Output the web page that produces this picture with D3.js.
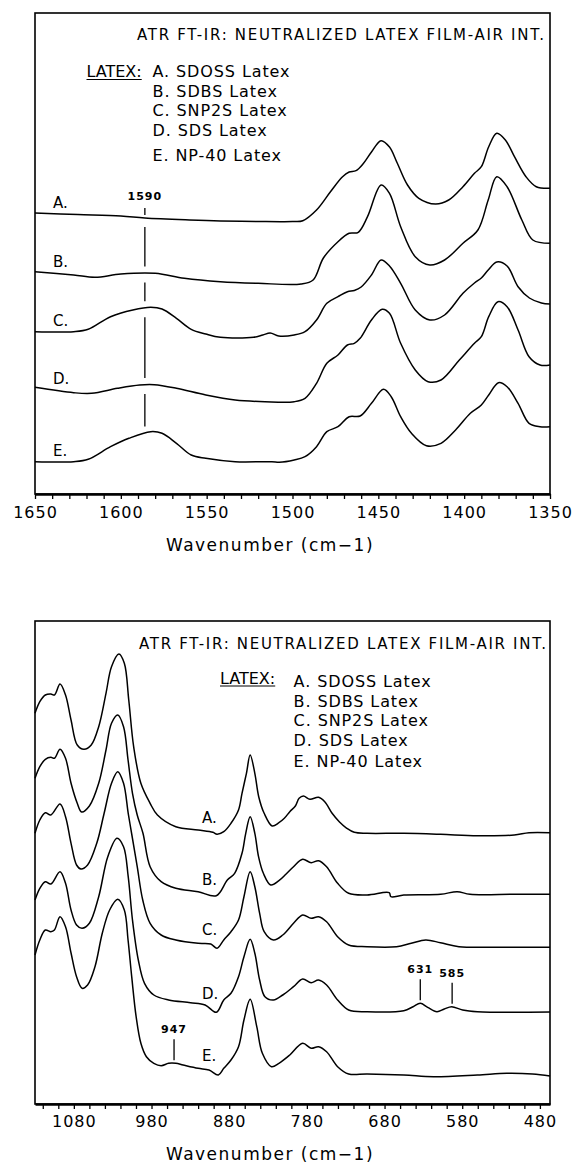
<!DOCTYPE html>
<html><head><meta charset="utf-8">
<script src="https://cdn.jsdelivr.net/npm/d3@7"></script>
<style>
body{margin:0;background:#fff;}
svg text{font-family:"DejaVu Sans",sans-serif;fill:#000;}
</style></head>
<body><svg id="c" width="576" height="1166"></svg>
<script>
// ---------- text ----------
const titleText = "ATR FT-IR: NEUTRALIZED LATEX FILM-AIR INT.";
const legendHeader = "LATEX:";
const legendItems = ["A. SDOSS Latex","B. SDBS Latex","C. SNP2S Latex","D. SDS Latex","E. NP-40 Latex"];
const seriesNames = ["A.","B.","C.","D.","E."];
const axisTitle = "Wavenumber (cm\u22121)";
const topTickLabels = [1650,1600,1550,1500,1450,1400,1350];
const bottomTickLabels = [1080,980,880,780,680,580,480];

// ---------- data: [wavenumber cm-1, stacked absorbance (a.u.)] ----------
const topA = [[1650,281],[1625,279.5],[1600,278],[1586,276],[1560,274],[1542,273],[1520,272.5],[1500,272.5],[1494,273.3],[1486,284],[1478,302],[1471,317],[1467,322],[1463,323.3],[1458.5,331],[1454,342],[1448.4,353.3],[1443.5,347],[1439,331],[1433,309],[1426.4,295.7],[1416.7,290],[1409,294],[1400.7,307.3],[1394,320.7],[1390,327.3],[1385.7,347.3],[1381,360.7],[1376,354],[1370.7,337.3],[1364,317.3],[1358,307.3],[1350,305.7]];
const topB = [[1650,222.3],[1627.5,219],[1615,216.7],[1600,220],[1580,220.7],[1563,215.7],[1542,212.3],[1520,210.7],[1495,210],[1488,214],[1482,236],[1473.5,252.3],[1467,260.7],[1461.7,261.7],[1456.3,277.3],[1448.4,309],[1443.5,300.7],[1437,267.3],[1428.5,237.3],[1420,229],[1411.4,234],[1400.7,250.7],[1392,264],[1386,294],[1381,317.3],[1375,307.3],[1366.4,274],[1360,254],[1350,250.7]];
const topC = [[1650,162.3],[1627.5,162.3],[1619,164.7],[1606,177.3],[1593,184],[1582.6,186.7],[1576,185],[1567.6,175.7],[1559,164.7],[1550.5,160],[1542,156.7],[1522.7,156.7],[1517.3,159],[1513,161],[1508,158],[1499,159],[1492.7,162.3],[1486,174],[1480,190.7],[1473.5,197.3],[1468,202.3],[1464,203.5],[1460,207],[1454,219],[1448.4,234],[1443.5,228],[1437,210.7],[1428.5,184],[1420,174],[1411.4,179],[1400.7,200.7],[1394,211],[1390,216],[1386,224],[1381,232],[1375,228],[1368.6,207.3],[1362,196],[1355,191],[1350,190]];
const topD = [[1650,106.7],[1627.5,101.3],[1617,100.7],[1602,105.7],[1589,109],[1580.5,109.3],[1567.6,105.7],[1550.5,99],[1533.4,94],[1516,92.3],[1499,92.3],[1492.7,95.7],[1486,110.7],[1480,130.7],[1473.5,139],[1468,149],[1464,150.7],[1460.6,155.7],[1454,174],[1447.8,184.7],[1443.5,180.7],[1437,150.7],[1428.5,124],[1421,112.3],[1413.5,114],[1402.8,134],[1394,150.7],[1390,157.3],[1385.7,177.3],[1380.3,192.3],[1375,187.3],[1368.6,164],[1362.2,137.3],[1355.8,129],[1350,129]];
const topE = [[1650,32.3],[1627.5,32.3],[1619,34.7],[1606,47.3],[1595.3,55.7],[1582.6,62.3],[1576,60.7],[1567.6,50.7],[1559,39],[1550.5,35.7],[1533.4,32.3],[1512,32.3],[1507.7,31.7],[1499,34],[1492.7,37.3],[1486,47.3],[1480,62.3],[1473.5,67.3],[1467,77.3],[1460.6,78],[1454,90.7],[1447,104.7],[1442.5,97.3],[1437,77.3],[1430.7,60.7],[1422,48.3],[1413.5,50.7],[1405,64],[1396.4,80.7],[1390,89],[1385.7,99],[1380,111.3],[1375,107.3],[1368.6,90.7],[1362.2,70.7],[1355.8,67.3],[1350,67.3]];

const botA = [[1130,390.7],[1123.8,402.3],[1116.7,409],[1109.6,410],[1104.9,409],[1097.8,420],[1090.7,409],[1083.6,384],[1075.6,359],[1067,354.7],[1057.6,359],[1048,377.3],[1038.6,410.7],[1031.5,437.3],[1022,450],[1015,440.7],[1009.3,404],[1003,357.3],[993.7,320.7],[981.8,300.7],[972.4,289],[948.7,277.3],[920,274],[901,271.7],[895.7,269.7],[887,272.3],[877.7,280.7],[868,294],[863.5,310.7],[857.8,330.7],[853,349],[847,330.7],[842,307.3],[835,290.7],[824.7,278],[816,281.3],[809,285.7],[802,292.3],[794.8,298],[790,305.7],[784.4,308],[776,304.7],[765,306.7],[757,302.3],[747.5,290.7],[738,282],[728.6,275.7],[719,271.7],[702.5,270.7],[655,270.7],[607.8,269.7],[560.5,268.3],[513,269],[494,271.3],[467,271.3]];
const botB = [[1130,325.7],[1123.8,337.3],[1116.7,344.7],[1109.6,346.7],[1105,345.7],[1097.8,354.7],[1090.7,345.7],[1083.6,320.7],[1075.6,300.7],[1070,292],[1060,298],[1048,320.7],[1038.6,354],[1031.5,380.7],[1023.5,389],[1016,377.3],[1010.2,344],[1004.5,310.7],[998.4,289],[991,270.7],[981.8,237.3],[967.6,222.3],[948.7,215.7],[920,212.3],[896.6,208.3],[882.4,224],[873,230.7],[863.5,250.7],[858.7,270.7],[853,287.3],[847,270.7],[842.2,247.3],[836,230.7],[826.5,219],[816,223.3],[806.7,230],[797.2,237.3],[785.4,244.7],[774.5,241.3],[765,243.3],[754.6,237.3],[740.4,220.7],[726.2,210.7],[702.5,209],[674,211.3],[671.8,207.3],[655.2,209],[607.8,209.7],[586.5,212.3],[570,209.7],[513,209.7],[467,209.7]];
const botC = [[1130,270.7],[1123.8,284],[1116.7,291.3],[1109.6,289],[1097.8,300],[1090.7,287.3],[1083.6,260.7],[1076.5,239],[1070.8,235],[1062.3,239],[1050.5,260.7],[1041,290.7],[1031.5,320.7],[1023.5,332.3],[1016,320.7],[1010,290.7],[1005.5,270],[998.4,237.3],[991.3,204],[981.8,180.7],[967.6,169],[948.7,164],[920,160.7],[903.7,160],[895.7,155.7],[887,164],[877.7,172.3],[868,184],[861,207.3],[853,232.3],[847,217.3],[840.8,190.7],[835,172.3],[823,164],[811,169],[797.2,180.7],[785.4,189],[774.5,185.7],[765,187.3],[754.6,182.3],[740.4,167.3],[726.2,159],[702.5,157.3],[664.6,157.3],[645.7,160.7],[627,164],[608,161.3],[584.2,157.3],[536.8,156.7],[467,156.7]];
const botD = [[1130,204],[1123.8,215.7],[1116.7,222.3],[1109.6,220],[1097.8,232.3],[1090.7,220.7],[1083.6,194],[1076.5,179],[1069.4,175.7],[1060,180.7],[1048,207.3],[1036.3,247.3],[1024.4,265.7],[1016,257.3],[1010,227.3],[1004.5,184],[997,144],[989,120.7],[977,109],[958,104],[929.8,101.3],[911,99],[896.6,91.7],[887,104],[877.7,110.7],[868,127.3],[861,147.3],[853,164.7],[847,150.7],[840.8,124],[834,107.3],[823,104],[811,109],[797.2,117.3],[785.4,125],[774.5,121.3],[765,124],[754.6,119],[740.4,104],[726.2,94],[702.5,92.3],[655.2,93.3],[643.3,97.3],[634,100.7],[624.5,96.7],[612.6,92.3],[603.1,95],[593.6,97.3],[579.4,94],[560.5,92.3],[467,92]];
const botE = [[1130,149],[1123.8,164],[1116.7,174],[1109.6,172.3],[1105,174],[1097.8,187.3],[1090.7,177.3],[1083.6,151],[1076.5,127.3],[1069.4,115.7],[1062.3,119],[1052.8,137.3],[1043.3,171],[1033.9,194],[1023.5,204.7],[1015,194],[1010.2,164],[1005.5,127.3],[999.8,87.3],[993.7,60.7],[986.6,47.3],[977,40.7],[967.6,38.3],[958,40.7],[948.7,40.7],[939.3,39],[920,35.7],[906,34],[894,29],[887,35.7],[877.7,44],[868,57.3],[861,84],[853,104.7],[844.5,77.3],[837.3,50.7],[825.6,37.3],[816,40.7],[802,49],[785.4,60.7],[774.5,55.7],[765,57.3],[754.6,52.3],[740.4,37.3],[726.2,30],[702.5,30],[655.2,29],[617,27.3],[560.5,29],[522.6,30.7],[489.5,30],[467,28]];

// peak annotations: label text, drawn position (cm-1), series index
const topMarks = [{label:"1590", at:1586}];
const bottomMarks = [{label:"947", at:951, s:4},{label:"631", at:634, s:3},{label:"585", at:593, s:3}];

// ---------- drawing ----------
const svg = d3.select("#c");
const X0 = 35, X1 = 550;

function valueAt(series, wn){
  for(let i=0;i<series.length-1;i++){
    const a=series[i], b=series[i+1];
    if((wn<=a[0]&&wn>=b[0])||(wn>=a[0]&&wn<=b[0])){
      const t=(wn-a[0])/(b[0]-a[0]); return a[1]+t*(b[1]-a[1]);
    }
  }
  return series[series.length-1][1];
}

function panel(p){
  const x = d3.scaleLinear().domain(p.domain).range([X0,X1]);
  const y = d3.scaleLinear().domain([0,p.yMax]).range([p.bottom,p.top]);
  const g = svg.append("g");

  g.append("rect").attr("x",X0).attr("y",p.top).attr("width",X1-X0).attr("height",p.bottom-p.top)
    .attr("fill","none").attr("stroke","#000").attr("stroke-width",1.6);

  const ax = d3.axisBottom(x).tickValues(p.ticks).tickSize(5).tickSizeOuter(0)
    .tickFormat(d => p.labeled.includes(d) ? d : "");
  const ag = g.append("g").attr("transform",`translate(0,${p.bottom})`).call(ax)
    .attr("font-family","DejaVu Sans").attr("font-size",16);
  ag.select(".domain").attr("stroke-width",2.6);
  ag.selectAll(".tick line").attr("stroke-width",1.3);
  ag.selectAll(".tick text").attr("y",p.tickLabelY).attr("dy",0).style("letter-spacing","1px").attr("fill","#000");

  g.append("text").attr("x",270).attr("y",p.bottom+p.axisTitleY).attr("text-anchor","middle")
    .attr("font-size",17).style("letter-spacing","1.5px").text(axisTitle);

  g.append("text").attr("x",p.titleX).attr("y",p.titleY).attr("font-size",15)
    .attr("textLength",407).attr("lengthAdjust","spacing").text(titleText);

  const hdr = g.append("text").attr("x",p.legendHeaderX).attr("y",p.legendY+p.legendHeaderDy)
    .attr("font-size",16).text(legendHeader);
  const hl = hdr.node().getComputedTextLength();
  g.append("line").attr("x1",p.legendHeaderX).attr("x2",p.legendHeaderX+hl)
    .attr("y1",p.legendY+p.legendHeaderDy+2.5).attr("y2",p.legendY+p.legendHeaderDy+2.5)
    .attr("stroke","#000").attr("stroke-width",1.2);
  legendItems.forEach((t,i)=>{
    g.append("text").attr("x",p.legendX).attr("y",p.legendY+i*p.legendStep+(i===4?p.legendLastGap:0))
      .attr("font-size",16).style("letter-spacing","0.9px").text(t);
  });

  const line = d3.line().x(d=>x(d[0])).y(d=>y(d[1])).curve(d3.curveCatmullRom.alpha(0.5));
  g.selectAll("path.spec").data(p.series).join("path").attr("class","spec")
    .attr("d",line).attr("fill","none").attr("stroke","#000").attr("stroke-width",1.5)
    .attr("stroke-linejoin","round");

  p.series.forEach((s,i)=>{
    g.append("text").attr("x",p.seriesLabelX).attr("y",y(valueAt(s,p.seriesLabelAt))+p.seriesLabelDy)
      .attr("font-size",15).text(seriesNames[i]);
  });
  return {x,y,g};
}

// top panel
const T = panel({top:13,bottom:494,domain:[1650,1350],yMax:481,
  ticks:d3.range(1650,1349,-10),labeled:topTickLabels,tickLabelY:24,axisTitleY:57,
  series:[topA,topB,topC,topD,topE],titleX:137,titleY:39.5,
  legendHeaderX:86.5,legendHeaderDy:0,legendX:152.5,legendY:77,legendStep:19.7,legendLastGap:5,
  seriesLabelX:53,seriesLabelAt:1640,seriesLabelDy:-6});

// bottom panel
const B = panel({top:621,bottom:1104,domain:[1130,467],yMax:483,
  ticks:d3.range(1120,479,-20),labeled:bottomTickLabels,tickLabelY:23,axisTitleY:56,
  series:[botA,botB,botC,botD,botE],titleX:139,titleY:649,
  legendHeaderX:220,legendHeaderDy:-3.5,legendX:293.6,legendY:687,legendStep:19.6,legendLastGap:2,
  seriesLabelX:202,seriesLabelAt:905,seriesLabelDy:-9});

// top annotation: broken vertical marker through all spectra
topMarks.forEach(m=>{
  const xs = T.x(m.at);
  const ys = [topA,topB,topC,topD,topE].map(s=>T.y(valueAt(s,m.at)));
  const lab = ys[0]-18;
  T.g.append("text").attr("x",xs).attr("y",lab).attr("text-anchor","middle")
    .attr("font-size",11).attr("font-weight","bold").style("letter-spacing","1px").text(m.label);
  const segs = [[lab+8, ys[0]-3]];
  for(let i=0;i<4;i++) segs.push([ys[i]+9, ys[i+1]-7]);
  segs.forEach(sg=>T.g.append("line").attr("x1",xs).attr("x2",xs).attr("y1",sg[0]).attr("y2",sg[1])
    .attr("stroke","#000").attr("stroke-width",1.3));
});

// bottom annotations
const botSeries=[botA,botB,botC,botD,botE];
bottomMarks.forEach(m=>{
  const xs = B.x(m.at);
  const yc = B.y(valueAt(botSeries[m.s],m.at));
  const lab = yc-30;
  B.g.append("text").attr("x",xs).attr("y",lab).attr("text-anchor","middle")
    .attr("font-size",11).attr("font-weight","bold").style("letter-spacing","1px").text(m.label);
  B.g.append("line").attr("x1",xs).attr("x2",xs).attr("y1",lab+6).attr("y2",yc-3)
    .attr("stroke","#000").attr("stroke-width",1.3);
});
</script>
</body></html>
